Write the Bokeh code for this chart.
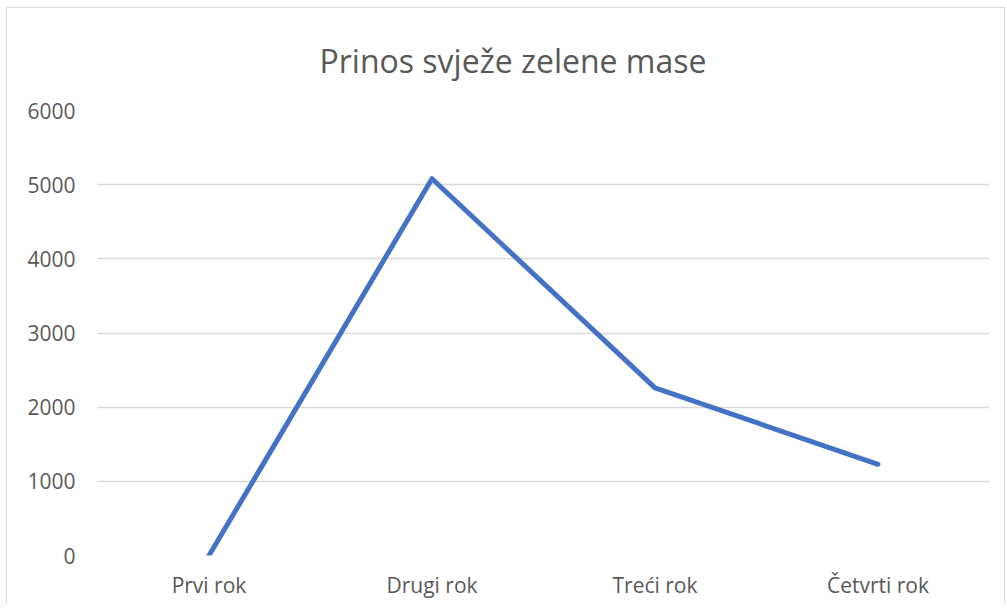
from bokeh.plotting import figure
from bokeh.models import FactorRange, Range1d, FixedTicker, ColumnDataSource
from bokeh.embed import file_html
from bokeh.resources import INLINE

categories = ["Prvi rok", "Drugi rok", "Treći rok", "Četvrti rok"]
values = [0, 5080, 2260, 1230]
y_ticks = [0, 1000, 2000, 3000, 4000, 5000, 6000]
title_text = "Prinos svježe zelene mase"

TEXT = "#595959"
GRID = "#d9d9d9"
LINE = "#4472c4"
FONT = "Open Sans"

src = ColumnDataSource(dict(x=categories, y=values))

p = figure(
    x_range=FactorRange(*categories, range_padding=0),
    y_range=Range1d(0, 6000),
    width=999, height=597,
    output_backend="svg", toolbar_location=None,
    min_border_left=90, min_border_right=17,
    min_border_top=101, min_border_bottom=50,
)

p.line("x", "y", source=src, line_color=LINE, line_width=5,
       line_cap="round", line_join="round")

p.title.text = title_text
p.title.text_font = FONT
p.title.text_font_size = "32px"
p.title.text_font_style = "normal"
p.title.text_color = TEXT
p.title.align = "left"
p.title.offset = 222
p.title.standoff = 57

p.outline_line_color = None
p.background_fill_color = "white"
p.border_fill_color = "white"

p.xgrid.grid_line_color = None
p.ygrid.grid_line_color = GRID
p.ygrid.grid_line_width = 1.5

p.yaxis.ticker = FixedTicker(ticks=y_ticks)
for ax in (p.xaxis, p.yaxis):
    ax.axis_line_color = None
    ax.major_tick_line_color = None
    ax.minor_tick_line_color = None
    ax.major_tick_out = 0
    ax.major_tick_in = 0
    ax.major_label_text_font = FONT
    ax.major_label_text_font_size = "21px"
    ax.major_label_text_color = TEXT
p.yaxis.major_label_standoff = 22
p.xaxis.major_label_standoff = 15

p.styles = {"border-top": "1px solid #d9d9d9", "border-left": "1px solid #d9d9d9",
            "border-right": "1px solid #d9d9d9", "margin-top": "7px", "margin-left": "6px"}

open("out.html", "w").write(file_html(p, INLINE))
